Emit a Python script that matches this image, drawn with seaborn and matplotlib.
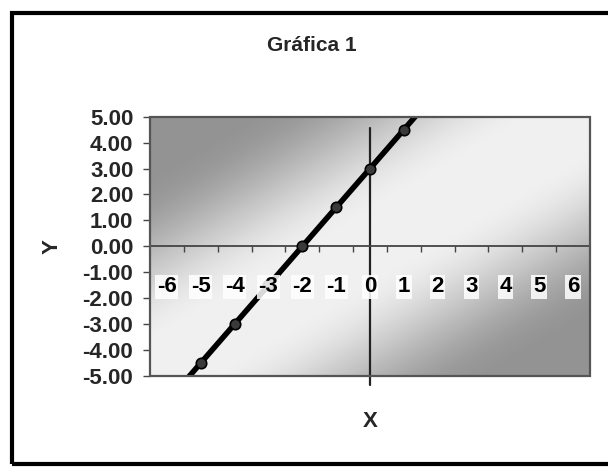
import numpy as np
import pandas as pd
import matplotlib
matplotlib.use("Agg")
import matplotlib.pyplot as plt
import matplotlib.patches as mpatches
import matplotlib.transforms as mtrans
import seaborn as sns

# ---- data ----
x_values = [-6, -5, -4, -3, -2, -1, 0, 1, 2, 3, 4, 5, 6]
y_values = [-6.0, -4.5, -3.0, -1.5, 0.0, 1.5, 3.0, 4.5, 6.0, 7.5, 9.0, 10.5, 12.0]
x_labels = ["-6", "-5", "-4", "-3", "-2", "-1", "0", "1", "2", "3", "4", "5", "6"]
y_ticks = [-5, -4, -3, -2, -1, 0, 1, 2, 3, 4, 5]
title = "Gráfica 1"
x_title = "X"
y_title = "Y"

df = pd.DataFrame({"X": x_values, "Y": y_values})

sns.set_theme(style="white")
plt.rcParams["font.family"] = ["Liberation Sans", "DejaVu Sans"]
plt.rcParams["font.weight"] = "bold"

fig = plt.figure(figsize=(6.08, 4.67), dpi=100)
fig.patch.set_facecolor("white")
ax = fig.add_axes([0.2467, 0.1949, 0.7237, 0.5552])

# background gradient (dark at top-left and bottom-right corners)
n = 200
u = np.linspace(0, 1, n)
v = np.linspace(1, 0, n)
U, V = np.meshgrid(u, v)
d = np.abs(U - V)
t = np.clip((d - 0.12) / 0.65, 0, 1)
t = t * t * (3 - 2 * t)
grad = 0.94 - 0.36 * t
ax.imshow(grad, extent=[0, 1, 0, 1], transform=ax.transAxes, aspect="auto",
          cmap="gray", vmin=0, vmax=1, zorder=0, interpolation="bilinear")

sns.lineplot(data=df, x="X", y="Y", ax=ax, color="black", linewidth=4.0,
             marker="o", markersize=7.5, markerfacecolor="#3a3a3a",
             markeredgecolor="black", markeredgewidth=1.2, zorder=3)

ax.set_xlim(-6.5, 6.5)
ax.set_ylim(-5, 5)
ax.set_xlabel("")
ax.set_ylabel("")

# y axis ticks
ax.set_yticks(y_ticks)
ax.set_yticklabels([f"{t:.2f}" for t in y_ticks])
ax.tick_params(axis="y", direction="out", length=5, width=1, color="#444",
               pad=7, labelsize=16, left=True)
for lab in ax.get_yticklabels():
    lab.set_fontweight("bold")

# horizontal axis at y=0 with tick marks between categories
ax.spines["bottom"].set_position(("data", 0))
ax.spines["bottom"].set_color("#444")
ax.spines["bottom"].set_linewidth(1.3)
ax.spines["bottom"].set_zorder(2)
ax.set_xticks([x + 0.5 for x in x_values[:-1]])
ax.tick_params(axis="x", direction="out", length=4, width=1, color="#444",
               labelbottom=False, bottom=True)
for s in ["top", "right", "left"]:
    ax.spines[s].set_visible(False)

# plot-area frame
ax.add_patch(mpatches.Rectangle((0, 0), 1, 1, transform=ax.transAxes, fill=False,
                                ec="#555555", lw=1.6, clip_on=False, zorder=6))

# vertical axis line at x = 0
ax.axvline(0, ymin=-0.035, ymax=0.956, color="#222", lw=1.6, clip_on=False, zorder=2)

# category labels along the horizontal axis
trans = mtrans.blended_transform_factory(ax.transData, ax.transAxes)
for xv, lab in zip(x_values, x_labels):
    ax.text(xv, 0.344, lab, transform=trans, ha="center", va="center",
            fontsize=16, fontweight="bold", color="black", zorder=5,
            bbox=dict(facecolor="white", edgecolor="none", alpha=0.85, pad=1.2))

# titles
fig.text(0.5127, 0.9036, title, ha="center", va="center", fontsize=15, fontweight="bold")
fig.text(0.6086, 0.097, x_title, ha="center", va="center", fontsize=16, fontweight="bold")
fig.text(0.085, 0.4717, y_title, ha="center", va="center", fontsize=16,
         fontweight="bold", rotation=90)

# outer border
fig.patches.append(mpatches.Rectangle((11.5 / 608, 3 / 467), 1.05, (454 - 3) / 467,
                                      transform=fig.transFigure, fill=False,
                                      ec="black", lw=3, clip_on=False))

fig.savefig("out.png", dpi=100)
